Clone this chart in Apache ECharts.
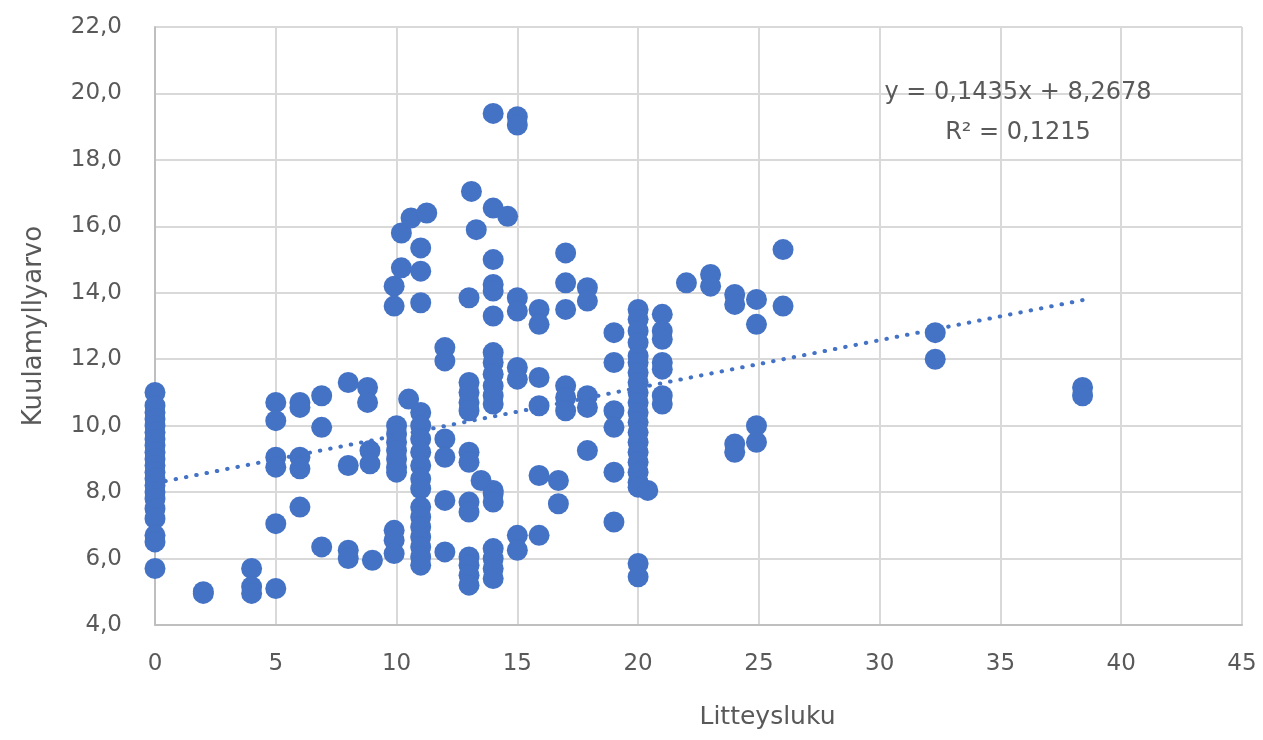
<!DOCTYPE html>
<html>
<head>
<meta charset="utf-8">
<script src="https://cdn.jsdelivr.net/npm/echarts@6/dist/echarts.min.js"></script>
<style>
html,body{margin:0;padding:0;background:#fff;}
#chart{width:1263px;height:740px;}
</style>
</head>
<body>
<div id="chart"></div>
<script>
// Litteysluku (x) columns and the Kuulamyllyarvo (y) values read at each x
const litteysluku = [0, 2, 4, 5, 6, 6.9, 8, 8.8, 8.9, 9, 9.9, 10, 10.2, 10.5, 10.6, 11, 11.25, 12, 13, 13.1, 13.3, 13.5, 14, 14.6, 15, 15.9, 16.7, 17, 17.9, 19, 20, 20.4, 21, 22, 23, 24, 24.9, 26, 32.3, 38.4];
const kuulamyllyarvo = [
  [11.0, 10.6, 10.4, 10.2, 10.0, 9.8, 9.6, 9.4, 9.2, 9.0, 8.8, 8.6, 8.4, 8.2, 8.0, 7.8, 7.5, 7.2, 6.7, 6.5, 5.7],
  [5.0, 4.95],
  [5.7, 5.15, 4.95],
  [10.7, 10.15, 9.05, 8.75, 7.05, 5.1],
  [10.7, 10.55, 9.05, 8.7, 7.55],
  [10.9, 9.95, 6.35],
  [11.3, 8.8, 6.25, 6.0],
  [11.15, 10.7],
  [9.25, 8.85],
  [5.95],
  [14.2, 13.6, 6.85, 6.55, 6.15],
  [10.0, 9.75, 9.5, 9.25, 9.0, 8.75, 8.6],
  [15.8, 14.75],
  [10.8],
  [16.25],
  [15.35, 14.65, 13.7, 10.4, 10.0, 9.6, 9.2, 8.8, 8.4, 8.1, 7.55, 7.25, 6.95, 6.65, 6.35, 6.05, 5.8],
  [16.4],
  [12.35, 11.95, 9.6, 9.05, 7.75, 6.2],
  [13.85, 11.3, 11.0, 10.7, 10.45, 9.2, 8.9, 7.7, 7.4, 6.05, 5.8, 5.5, 5.2],
  [17.05],
  [15.9],
  [8.35],
  [19.4, 16.55, 15.0, 14.25, 14.05, 13.3, 12.2, 11.9, 11.55, 11.2, 10.9, 10.65, 8.05, 7.95, 7.7, 6.3, 6.0, 5.7, 5.4],
  [16.3],
  [19.3, 19.05, 13.85, 13.45, 11.75, 11.4, 6.7, 6.25],
  [13.5, 13.05, 11.45, 10.6, 8.5, 6.7],
  [8.35, 7.65],
  [15.2, 14.3, 13.5, 11.2, 10.85, 10.45],
  [14.15, 13.75, 10.9, 10.55, 9.25],
  [12.8, 11.9, 10.45, 9.95, 8.6, 7.1],
  [13.5, 13.2, 12.85, 12.5, 12.1, 11.9, 11.6, 11.3, 11.0, 10.7, 10.4, 10.1, 9.8, 9.5, 9.2, 8.9, 8.6, 8.3, 8.15, 5.85, 5.45],
  [8.05],
  [13.35, 12.85, 12.6, 11.9, 11.7, 10.9, 10.65],
  [14.3],
  [14.55, 14.2],
  [13.95, 13.65, 9.45, 9.2],
  [13.8, 13.05, 10.0, 9.5],
  [15.3, 13.6],
  [12.8, 12.0],
  [11.15, 10.9]
];
// Trendline as reported on the chart
const trendSlope = 0.1435;
const trendIntercept = 8.2678;
const trendRange = [0, 38.4];
const trendLabel = ['y = 0,1435x + 8,2678', 'R\u00b2 = 0,1215'];
// Axis ticks
const xTicks = [0, 5, 10, 15, 20, 25, 30, 35, 40, 45];
const yTicks = [4, 6, 8, 10, 12, 14, 16, 18, 20, 22];

const points = [];
litteysluku.forEach((x, i) => kuulamyllyarvo[i].forEach(y => points.push([x, y])));
const trendData = trendRange.map(x => [x, trendIntercept + trendSlope * x]);

const txt = '#595959';
const font = 'DejaVu Sans';
const chart = echarts.init(document.getElementById('chart'));
chart.setOption({
  animation: false,
  backgroundColor: '#ffffff',
  grid: {left: 155, right: 21, top: 27, bottom: 115},
  xAxis: {
    type: 'value', min: xTicks[0], max: xTicks[xTicks.length - 1], interval: 5,
    name: 'Litteysluku', nameLocation: 'middle', nameGap: 80,
    nameTextStyle: {color: txt, fontFamily: font, fontSize: 25, padding: [0, 0, 0, 138]},
    axisLine: {show: true, lineStyle: {color: '#bfbfbf', width: 2}},
    axisTick: {show: false},
    axisLabel: {color: txt, fontFamily: font, fontSize: 23, margin: 28},
    splitLine: {show: true, lineStyle: {color: '#d9d9d9', width: 2}}
  },
  yAxis: {
    type: 'value', min: yTicks[0], max: yTicks[yTicks.length - 1], interval: 2,
    name: 'Kuulamyllyarvo', nameLocation: 'middle', nameGap: 108, nameRotate: 90,
    nameTextStyle: {color: txt, fontFamily: font, fontSize: 26},
    axisLine: {show: true, lineStyle: {color: '#bfbfbf', width: 2}},
    axisTick: {show: false},
    axisLabel: {color: txt, fontFamily: font, fontSize: 23, margin: 33,
      formatter: v => v.toFixed(1).replace('.', ',')},
    splitLine: {show: true, lineStyle: {color: '#d9d9d9', width: 2}}
  },
  series: [
    {
      type: 'scatter', data: points, symbol: 'circle', symbolSize: 21,
      itemStyle: {color: '#4472C4', opacity: 1}, z: 2
    },
    {
      type: 'line', data: trendData, showSymbol: false, symbol: 'none',
      lineStyle: {color: '#4472C4', width: 4, type: [0.5, 10], cap: 'round'}, z: 3
    }
  ],
  graphic: [
    {type: 'text', x: 1018, y: 93, z: 10, style: {text: trendLabel[0], fill: txt, font: '24px "DejaVu Sans"', textAlign: 'center', textVerticalAlign: 'middle'}},
    {type: 'text', x: 1018, y: 133, z: 10, style: {text: trendLabel[1], fill: txt, font: '24px "DejaVu Sans"', textAlign: 'center', textVerticalAlign: 'middle'}}
  ]
});
</script>
</body>
</html>
